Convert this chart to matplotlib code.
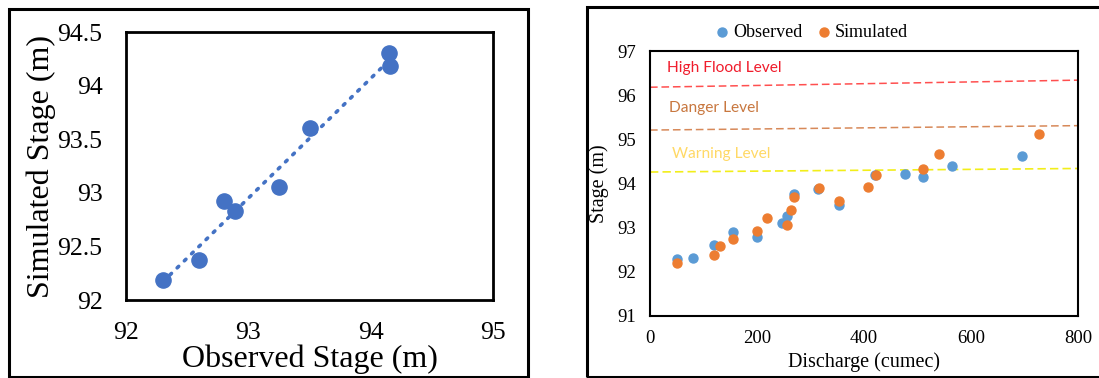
import matplotlib
matplotlib.use("Agg")
import matplotlib.pyplot as plt
from matplotlib.patches import Rectangle
import numpy as np

# left panel: observed vs simulated stage
obs_stage = [92.30, 92.60, 92.80, 92.89, 93.25, 93.50, 94.15, 94.16]
sim_stage = [92.19, 92.37, 92.92, 92.83, 93.05, 93.60, 94.30, 94.18]

# right panel: stage vs discharge
obs_q = [50, 81, 120, 156, 200, 247, 256, 269, 314, 354, 421, 476, 510, 565, 695]
obs_h = [92.30, 92.31, 92.60, 92.90, 92.79, 93.11, 93.26, 93.77, 93.87, 93.51,
         94.19, 94.22, 94.15, 94.39, 94.62]
sim_q = [50, 120, 131, 156, 200, 219, 256, 264, 269, 315, 354, 407, 422, 510, 540, 728]
sim_h = [92.19, 92.37, 92.59, 92.74, 92.92, 93.22, 93.05, 93.39, 93.69, 93.89,
         93.61, 93.91, 94.19, 94.33, 94.67, 95.11]

# reference levels (value at discharge 0 and 800)
level_q = [0, 800]
hfl_h = [96.18, 96.34]
danger_h = [95.21, 95.31]
warning_h = [94.26, 94.34]

W, H = 1099, 378
fig = plt.figure(figsize=(W / 100, H / 100), dpi=100)
serif = "Liberation Serif"
sans = "Lato"

def px_axes(left, top, right, bottom):
    return fig.add_axes([left / W, (H - bottom) / H, (right - left) / W, (bottom - top) / H])

# outer frames
fig.patches.append(Rectangle((9 / W, 1 / H), 519 / W, 368 / H, transform=fig.transFigure,
                             fill=False, lw=2.2, ec="black"))
fig.patches.append(Rectangle((587 / W, 1 / H), 520 / W, 370 / H, transform=fig.transFigure,
                             fill=False, lw=2.2, ec="black"))

# ---- left panel
ax1 = px_axes(126, 32, 493, 300)
ax1.scatter(obs_stage, sim_stage, s=120, color="#4472C4", zorder=3)
k, b = np.polyfit(obs_stage, sim_stage, 1)
xs = np.array([min(obs_stage), max(obs_stage)])
ax1.plot(xs, k * xs + b, color="#4472C4", lw=2.6, linestyle=(0, (0.6, 2.2)),
         dash_capstyle="round", zorder=2)
ax1.set_xlim(92, 95)
ax1.set_ylim(92, 94.5)
ax1.set_xticks([92, 93, 94, 95])
ax1.set_yticks([92, 92.5, 93, 93.5, 94, 94.5])
ax1.set_xticklabels(["92", "93", "94", "95"])
ax1.set_yticklabels(["92", "92.5", "93", "93.5", "94", "94.5"])
ax1.tick_params(length=0, labelsize=18.5)
ax1.tick_params(axis="x", pad=16)
ax1.tick_params(axis="y", pad=17)
for lab in ax1.get_xticklabels() + ax1.get_yticklabels():
    lab.set_fontfamily(serif)
ax1.set_xlabel("Observed Stage (m)", fontsize=23, fontfamily=serif, labelpad=0)
ax1.set_ylabel("Simulated Stage (m)", fontsize=23, fontfamily=serif, labelpad=1)
for sp in ax1.spines.values():
    sp.set_linewidth(2)

# ---- right panel
ax2 = px_axes(650, 51, 1078, 316)
ax2.scatter(obs_q, obs_h, s=42, color="#5B9BD5", label="Observed", zorder=3)
ax2.scatter(sim_q, sim_h, s=42, color="#ED7D31", label="Simulated", zorder=4)
ax2.plot(level_q, hfl_h, color="#FF3030", lw=1.1, linestyle=(0, (5, 2.5)), alpha=0.85)
ax2.plot(level_q, danger_h, color="#D0743C", lw=1.1, linestyle=(0, (5, 2.5)), alpha=0.85)
ax2.plot(level_q, warning_h, color="#F2EE1A", lw=1.2, linestyle=(0, (5, 2.5)))
ax2.text(31, 96.62, "High Flood Level", color="#F01C2C", fontsize=11.2, fontfamily=sans,
         va="center")
ax2.text(35, 95.71, "Danger Level", color="#C8773F", fontsize=11.2, fontfamily=sans,
         va="center")
ax2.text(42, 94.67, "Warning Level", color="#FFD966", fontsize=11.2, fontfamily=sans,
         va="center")
ax2.set_xlim(0, 800)
ax2.set_ylim(91, 97)
ax2.set_xticks([0, 200, 400, 600, 800])
ax2.set_yticks([91, 92, 93, 94, 95, 96, 97])
ax2.tick_params(length=0, labelsize=13.5, pad=10)
for lab in ax2.get_xticklabels() + ax2.get_yticklabels():
    lab.set_fontfamily(serif)
ax2.set_xlabel("Discharge (cumec)", fontsize=14.5, fontfamily=serif, labelpad=4)
ax2.set_ylabel("Stage (m)", fontsize=14.5, fontfamily=serif, labelpad=6)
for sp in ax2.spines.values():
    sp.set_linewidth(1.5)
ax2.legend(loc="lower center", bbox_to_anchor=(0.377, 1.0), ncol=2, frameon=False,
           prop={"family": serif, "size": 13}, handlelength=0.8, handletextpad=0.2,
           columnspacing=0.8, borderaxespad=0.15)

fig.savefig("out.png", dpi=100)
